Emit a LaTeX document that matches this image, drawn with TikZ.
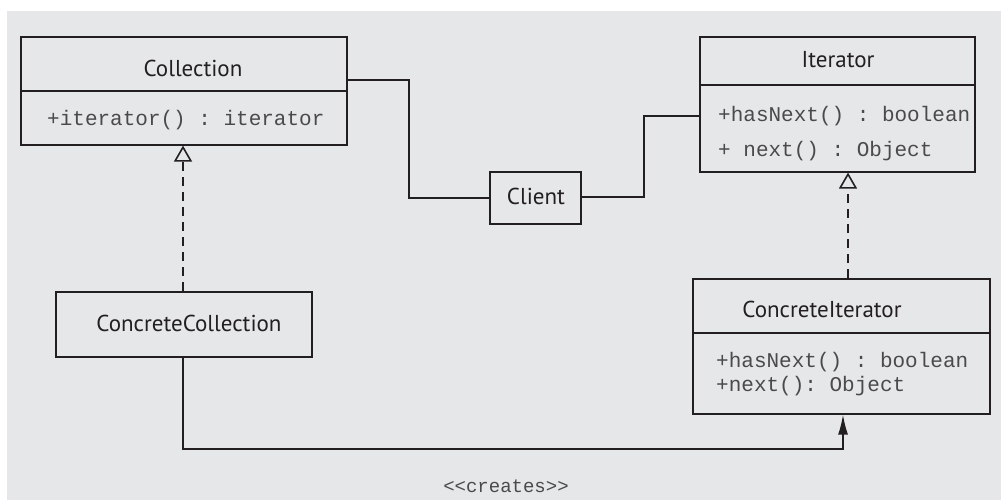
\documentclass[tikz,border=0pt]{standalone}
\usepackage{fontspec}
\setmainfont{PT Sans}
\setmonofont{Liberation Mono}
\usetikzlibrary{arrows.meta,calc}
\definecolor{bg}{HTML}{E6E7E9}
\definecolor{ink}{HTML}{231F20}
\definecolor{mono}{HTML}{4A4A4A}
\begin{document}
\begin{tikzpicture}[x=1pt,y=-1pt,
  box/.style={draw=ink,line width=1.6pt,anchor=north west,inner sep=0pt},
  title/.style={font=\fontsize{23}{26}\selectfont,text=ink,inner sep=0pt},
  op/.style={font=\ttfamily\fontsize{21}{24}\selectfont,text=mono,anchor=west,inner sep=0pt},
  conn/.style={draw=ink,line width=1.6pt},
  real/.style={conn,dash pattern=on 9pt off 6pt,-{Triangle[open,width=18pt,length=16pt,line width=1.6pt]}},
  creates/.style={conn,-{Latex[width=10pt,length=20pt]}}]
\useasboundingbox (0,0) rectangle (1001,500);
\fill[bg] (7,11) rectangle (1001,500);
% Collection
\node[box,minimum width=326pt,minimum height=108pt] (coll) at (20,36) {};
\draw[conn] (20,91) -- (347,91);
\node[title] (colltitle) at (193,68) {Collection};
\node[op] (collop) at (47,120) {+iterator() : iterator};
% Iterator
\node[box,minimum width=275pt,minimum height=135pt] (iter) at (699,36) {};
\draw[conn] (699,85) -- (974,85);
\node[title] (itertitle) at (838,60) {Iterator};
\node[op] (iterop1) at (718,116) {+hasNext() : boolean};
\node[op] (iterop2) at (718,151) {+ next() : Object};
% Client
\node[box,minimum width=91pt,minimum height=52pt] (client) at (489,171) {};
\node[title] (clienttitle) at (536,196) {Client};
% ConcreteCollection
\node[box,minimum width=256pt,minimum height=65pt] (ccoll) at (55,291) {};
\node[title] (ccolltitle) at (189,323) {ConcreteCollection};
% ConcreteIterator
\node[box,minimum width=297pt,minimum height=135pt] (citer) at (692,278) {};
\draw[conn] (692,333) -- (990,333);
\node[title] (citertitle) at (822,309) {ConcreteIterator};
\node[op] (citerop1) at (716,362) {+hasNext() : boolean};
\node[op] (citerop2) at (716,386) {+next(): Object};
% coordinates
\coordinate (collout) at (coll.north east |- 0,80);
\coordinate (iterin) at (iter.north west |- 0,116);
\coordinate (cliL) at (client.west |- 0,198);
\coordinate (cliR) at (client.east |- 0,197);
% connectors
\draw[conn] (collout) -- (409,80) -- (409,198) -- (cliL);
\draw[conn] (cliR) -- (644,197) -- (644,116) -- (iterin);
\draw[real] (ccoll.north -| 183,0) -- (coll.south -| 183,0);
\draw[real] (citer.north -| 848,0) -- (iter.south -| 848,0);
\draw[creates] (ccoll.south -| 183,0) -- (183,449) -- (843,449) -- (citer.south -| 843,0);
\node[font=\ttfamily\fontsize{19}{22}\selectfont,text=mono,inner sep=0pt] (lbl) at (506,486) {<<creates>>};
\end{tikzpicture}
\end{document}
